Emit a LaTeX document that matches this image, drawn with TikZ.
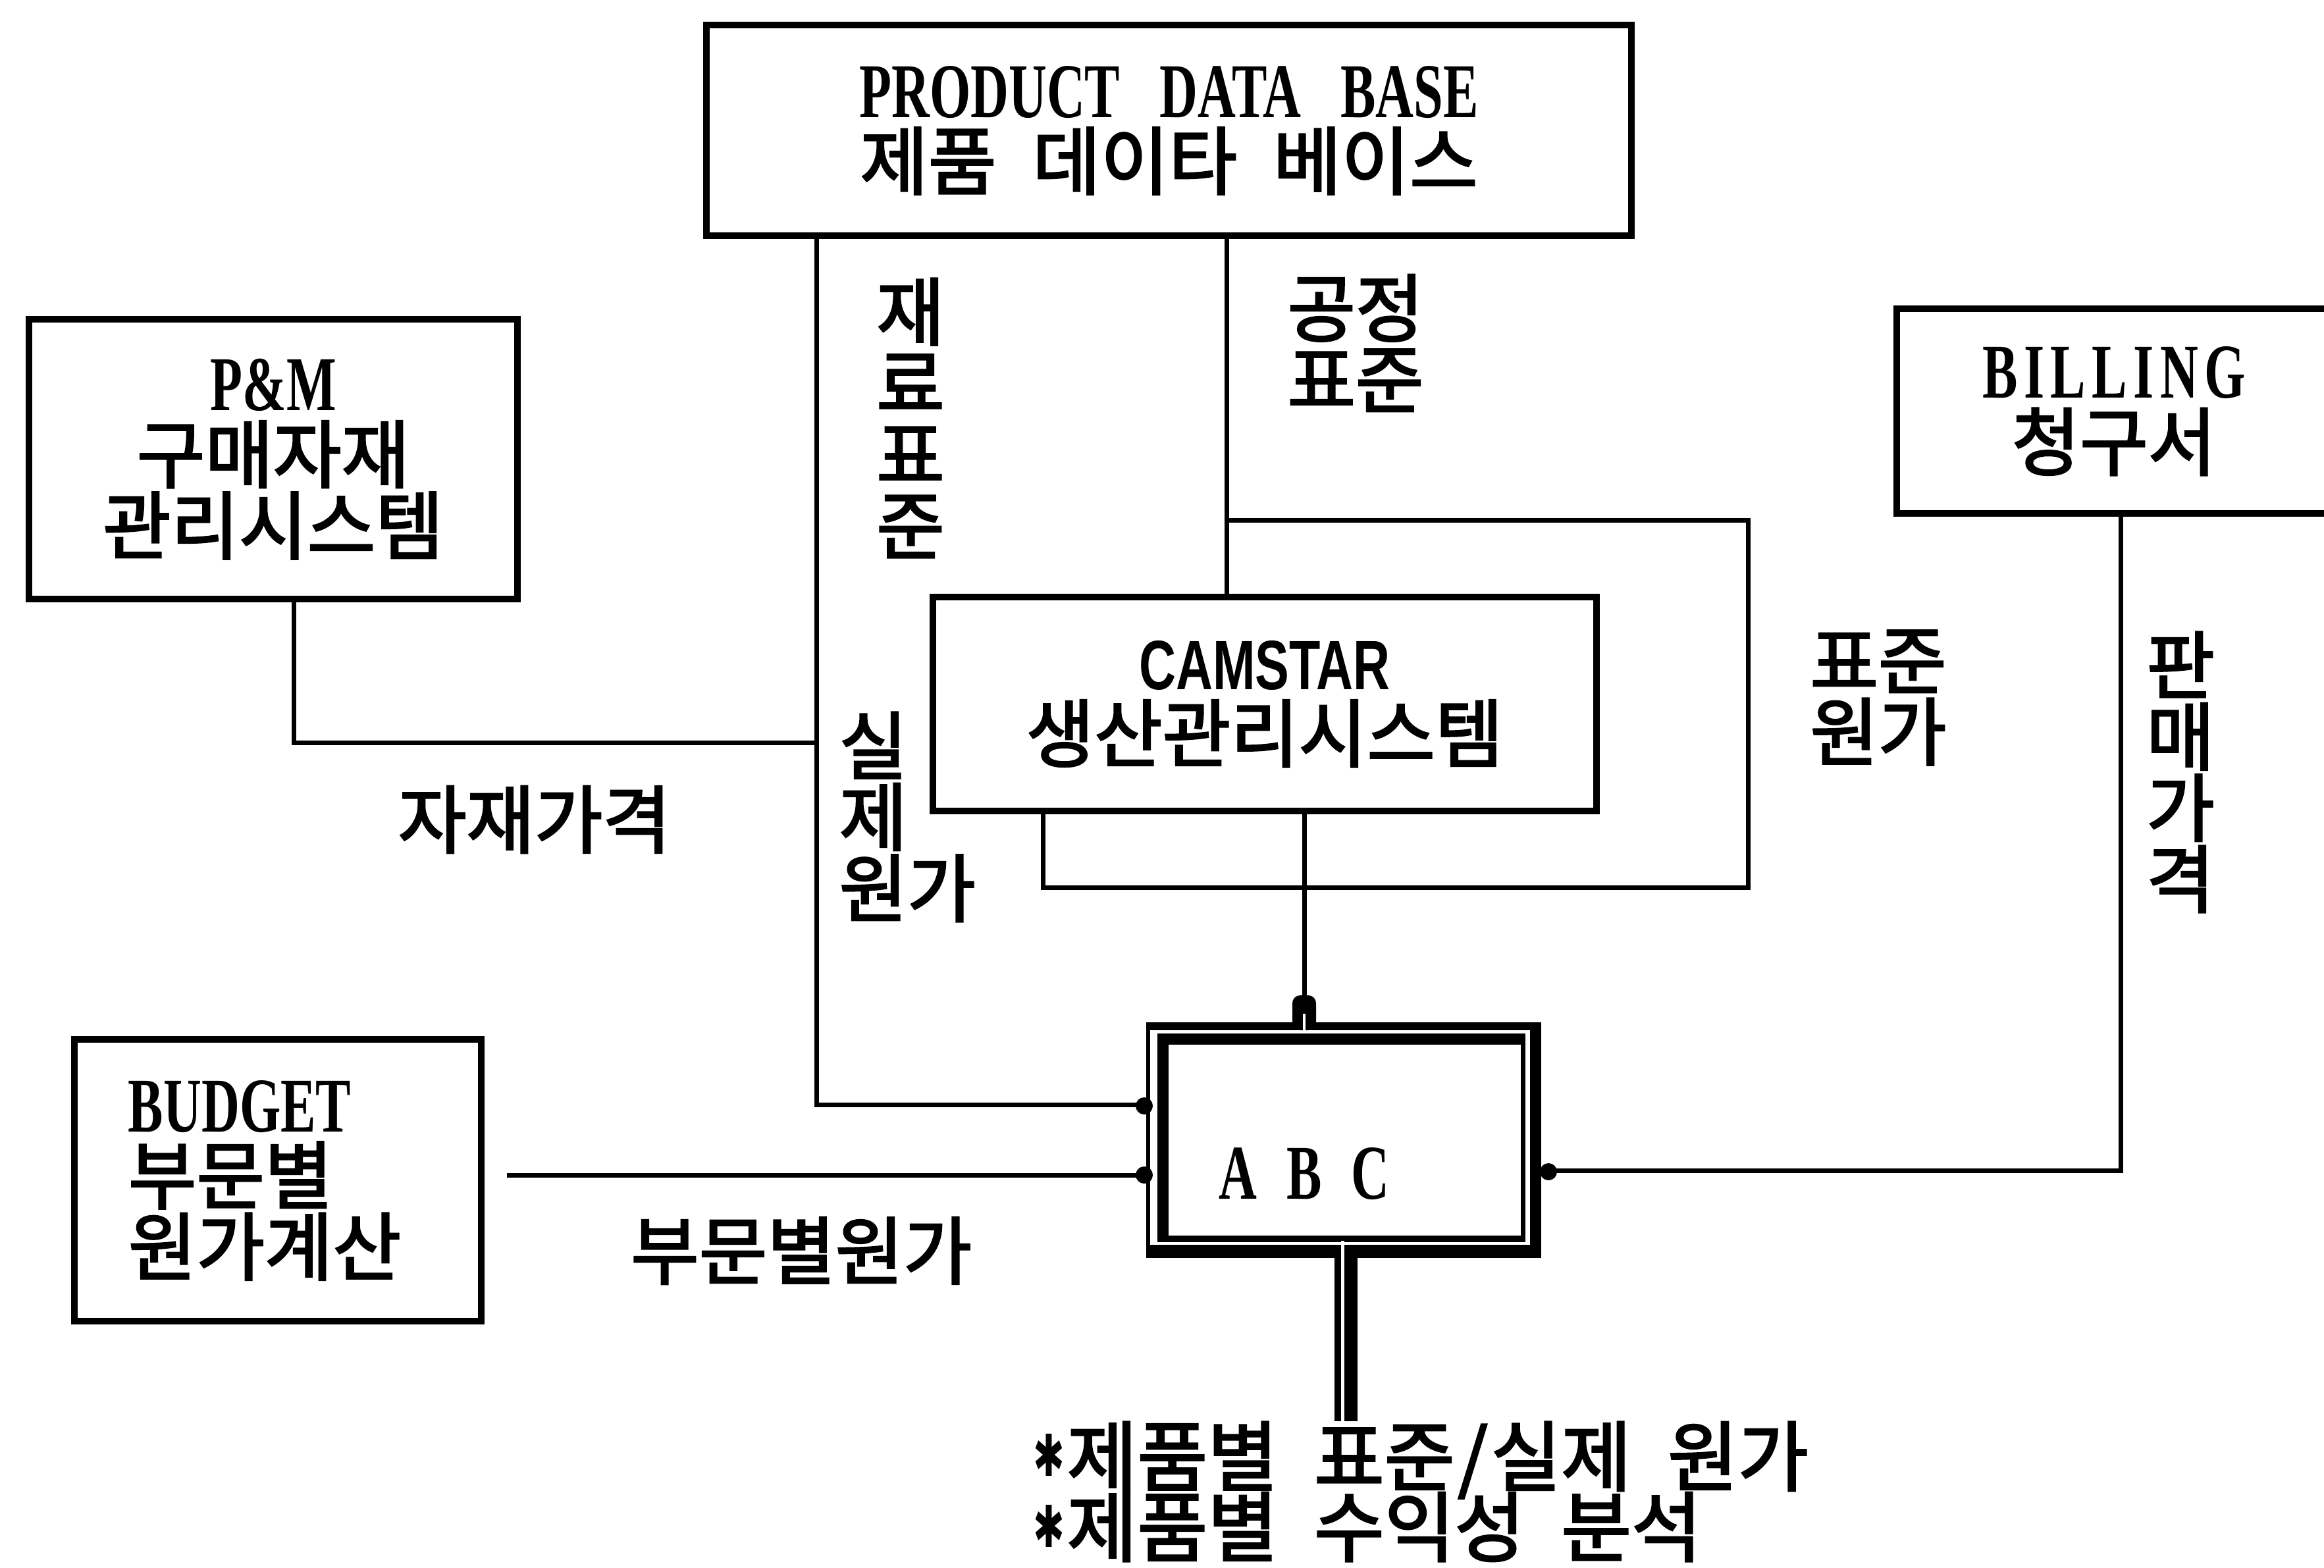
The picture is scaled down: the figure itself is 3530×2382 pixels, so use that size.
\documentclass[tikz,border=0pt]{standalone}
\usepackage{fontspec}
\usepackage{graphicx}
\newfontfamily\kr[FakeBold=2.5]{Noto Sans CJK KR}
\newfontfamily\latf[FakeStretch=0.68]{Liberation Serif}
\newfontfamily\latlsf[FakeStretch=0.68,LetterSpace=8]{Liberation Serif}
\newfontfamily\latsf[FakeStretch=0.73]{Liberation Sans}
\newfontfamily\symf{DejaVu Sans}
\setlength{\lineskiplimit}{-50pt}
\newcommand\kfs{\fontsize{32pt}{30.8pt}\selectfont}
\newcommand\kfsb{\fontsize{33pt}{30.5pt}\selectfont}
\newcommand\latt[1]{{\latf\bfseries\fontsize{33.5pt}{30.8pt}\selectfont #1}}
\newcommand\lattls[1]{{\latlsf\bfseries\fontsize{33.5pt}{30.8pt}\selectfont #1}}
\newcommand\lats[1]{{\latsf\bfseries\fontsize{30.2pt}{30.8pt}\selectfont #1}}
\newcommand\ksp{\hspace{0.55cm}}
\newcommand\slsh{\makebox[0.55cm][c]{/}}
\newcommand\astr{\makebox[0.55cm][c]{\raisebox{0.13cm}{\scalebox{0.65}[1]{\symf\bfseries\fontsize{25pt}{25pt}\selectfont ✱}}}}
\tikzset{
  box/.style={draw, line width=0.1cm, rectangle, inner sep=0pt, align=center,
    font=\kr\kfs},
  lbl/.style={inner sep=0pt, align=center, font=\kr\kfs},
  wire/.style={line width=0.07cm}
}
\begin{document}
\begin{tikzpicture}[x=0.01cm, y=-0.01cm]
\useasboundingbox (0,0) rectangle (3530,2382);
\clip (0,0) rectangle (3530,2382);

% boxes
\node[box, minimum width=14.05cm, minimum height=3.2cm] (pdb) at (1775.5,198)
  {\latt{PRODUCT\hspace{0.6cm}DATA\hspace{0.6cm}BASE}\\제품\ksp 데이타\ksp 베이스};
\node[box, minimum width=7.42cm, minimum height=4.25cm] (pm) at (415,697.5)
  {\latt{P\&M}\\구매자재\\관리시스템};
\node[box, minimum width=6.6cm, minimum height=3.11cm] (bill) at (3211,624.5)
  {\lattls{BILLING}\\청구서};
\node[box, minimum width=10.08cm, minimum height=3.25cm] (cam) at (1921,1069.5)
  {\lats{CAMSTAR}\\생산관리시스템};
\node[box, align=left, minimum width=6.18cm, minimum height=4.28cm] (bud) at (422,1793)
  {\latt{BUDGET}\\부문별\\원가계산\hspace*{0.4cm}};

% ABC double frame
\fill (1741,1553) rectangle (2341,1911);
\fill[white] (1747,1565) rectangle (2324,1891);
\fill (1758,1570) rectangle (2317,1887);
\fill[white] (1775,1587) rectangle (2310,1877);
\node[inner sep=0pt, outer sep=0pt, minimum width=6cm, minimum height=3.58cm] (abc) at (2041,1732) {};
\node[lbl] (abct) at (1981,1783) {\latt{A\hspace{0.45cm}B\hspace{0.45cm}C}};

% labels
\node[lbl] (l1) at (1383,635) {재\\료\\표\\준};
\node[lbl] (l2) at (2059,521) {공정\\표준};
\node[lbl, align=left, anchor=west] (l3) at (1274,1241) {실\\제\\원가};
\node[lbl] (l4) at (2853,1060) {표준\\원가};
\node[lbl] (l5) at (3312,1173) {판\\매\\가\\격};
\node[lbl] (l6) at (812,1245) {자재가격};
\node[lbl] (l7) at (1217,1900) {부문별원가};
\node[lbl, font=\kr\kfsb, align=left, anchor=west] (out) at (1565,2266)
  {\astr 제품별\ksp 표준\slsh 실제\ksp 원가\\\astr 제품별\ksp 수익성\ksp 분석};

% connectors
\coordinate (j1) at (1240,1128);
\coordinate (j2) at (1863,790);
\draw[wire] (pdb.south -| 1240,0) |- (abc.west |- 0,1678);
\draw[wire] (pm.south -| 446,0) |- (j1);
\draw[wire] (pdb.south -| 1863,0) -- (cam.north -| 1863,0);
\draw[wire] (j2) -| (2655,1348) -| (cam.south -| 1584,0);
\draw[wire] (cam.south -| 1981,0) -- (abc.north -| 1981,0);
\draw[wire, shorten <=0.34cm] (bud.east |- 0,1785) -- (abc.west |- 0,1785);
\draw[wire] (bill.south -| 3221,0) |- (abc.east |- 0,1778);
\draw[line width=0.35cm] (abc.south -| 2044.5,0) -- (out.north -| 2044.5,0);

% junction details
\fill (1738,1680) circle (0.13cm);
\fill (1738,1785) circle (0.13cm);
\fill (2352,1780) circle (0.13cm);
\fill[rounded corners=0.12cm] (1963,1565) -- (1963,1512) -- (1999,1512) -- (1999,1565) -- cycle;
\draw[white, line width=0.04cm] (1981,1540) -- (1981,1568);
\draw[white, line width=0.05cm] (2039.5,1885) -- (2039.5,2160);
\end{tikzpicture}
\end{document}
